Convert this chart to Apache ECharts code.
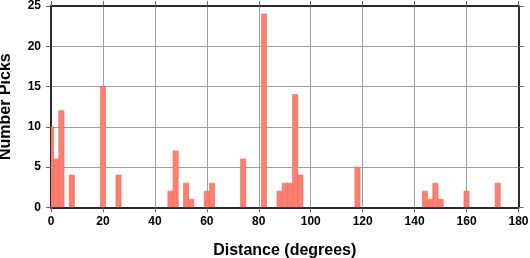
<!DOCTYPE html>
<html><head><meta charset="utf-8">
<script src="https://cdn.jsdelivr.net/npm/echarts@6/dist/echarts.min.js"></script>
<style>html,body{margin:0;padding:0;background:#fff}#c{width:530px;height:258px}</style>
</head><body><div id="c"></div>
<script>
// Histogram bins (center in degrees, 2-degree bins)
const binCenters = [0, 2, 4, 8, 20, 26, 46, 48, 52, 54, 60, 62, 74, 82, 88, 90, 92, 94, 96, 118, 144, 146, 148, 150, 160, 172];
const binCounts  = [10, 6, 12, 4, 15, 4, 2, 7, 3, 1, 2, 3, 6, 24, 2, 3, 3, 14, 4, 5, 2, 1, 3, 1, 2, 3];
const binWidth = 2;
const xTicks = [0, 20, 40, 60, 80, 100, 120, 140, 160, 180];
const yTicks = [0, 5, 10, 15, 20, 25];

const font = 'Liberation Sans, Arial, Helvetica, sans-serif';
const chart = echarts.init(document.getElementById('c'), null, {renderer: 'canvas'});
const data = binCenters.map((c, i) => [c, binCounts[i]]);

const axisLineStyle = {show: true, onZero: false, lineStyle: {color: '#2a2a2a', width: 2}};
const tickStyle = {show: true, inside: false, length: 5, lineStyle: {color: '#666', width: 1}};

chart.setOption({
  animation: false,
  grid: {left: 51, right: 11.5, top: 6, bottom: 50.7, containLabel: false, outerBoundsMode: 'none'},
  xAxis: [{
    type: 'value', min: xTicks[0], max: xTicks[xTicks.length - 1], interval: 20,
    position: 'bottom',
    axisLine: axisLineStyle, axisTick: tickStyle,
    axisLabel: {color: '#000', fontFamily: font, fontWeight: 'bold', fontSize: 12, margin: 8},
    splitLine: {show: true, lineStyle: {color: '#a0a0a0', width: 1}},
    name: 'Distance (degrees)', nameLocation: 'middle', nameGap: 35,
    nameTextStyle: {color: '#000', fontFamily: font, fontWeight: 'bold', fontSize: 16}
  }, {
    type: 'value', min: xTicks[0], max: xTicks[xTicks.length - 1], interval: 20,
    position: 'top',
    axisLine: axisLineStyle, axisTick: tickStyle,
    axisLabel: {show: false}, splitLine: {show: false}
  }],
  yAxis: [{
    type: 'value', min: yTicks[0], max: yTicks[yTicks.length - 1], interval: 5,
    position: 'left',
    axisLine: axisLineStyle, axisTick: tickStyle,
    axisLabel: {color: '#000', fontFamily: font, fontWeight: 'bold', fontSize: 12, margin: 10},
    splitLine: {show: true, lineStyle: {color: '#a0a0a0', width: 1}},
    name: 'Number Picks', nameLocation: 'middle', nameGap: 37,
    nameTextStyle: {color: '#000', fontFamily: font, fontWeight: 'bold', fontSize: 16}
  }, {
    type: 'value', min: yTicks[0], max: yTicks[yTicks.length - 1], interval: 5,
    position: 'right',
    axisLine: axisLineStyle, axisTick: tickStyle,
    axisLabel: {show: false}, splitLine: {show: false}
  }],
  series: [{
    type: 'custom',
    xAxisIndex: 0, yAxisIndex: 0,
    clip: true,
    data: data,
    renderItem: function (params, api) {
      const c = api.value(0), v = api.value(1);
      const p0 = api.coord([c - binWidth / 2, 0]);
      const p1 = api.coord([c + binWidth / 2, v]);
      const rect = echarts.graphic.clipRectByRect({
        x: p0[0], y: p1[1], width: p1[0] - p0[0], height: p0[1] - p1[1]
      }, {
        x: params.coordSys.x, y: params.coordSys.y,
        width: params.coordSys.width, height: params.coordSys.height
      });
      if (!rect) return;
      return {
        type: 'rect', shape: rect,
        style: {fill: '#fa8072', stroke: '#f0665c', lineWidth: 0.6}
      };
    },
    z: 1
  }]
});
</script></body></html>
